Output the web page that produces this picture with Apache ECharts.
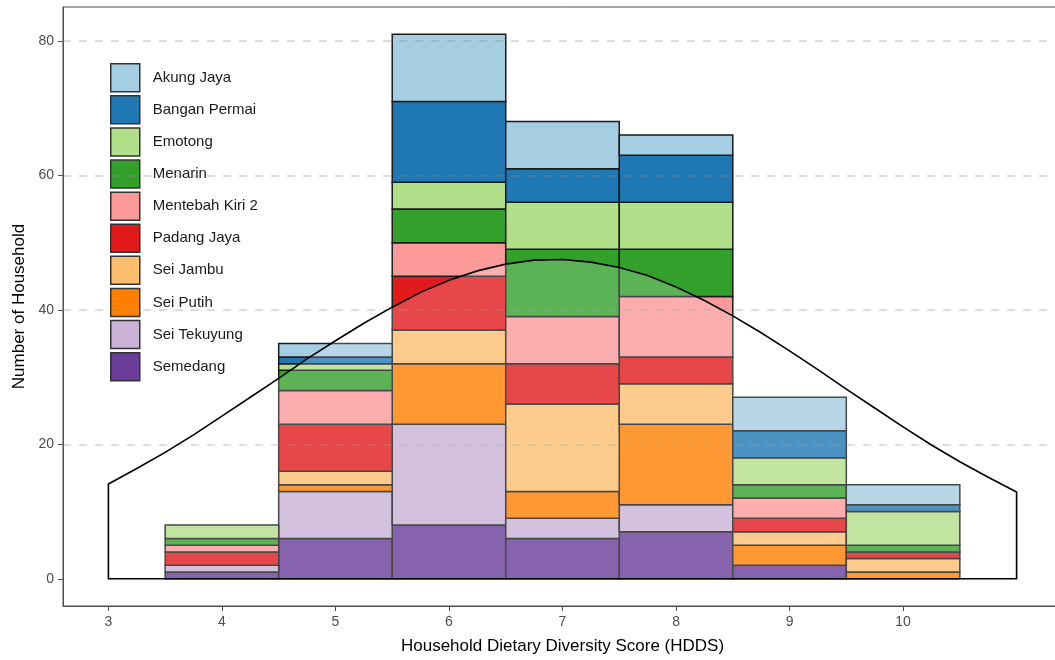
<!DOCTYPE html>
<html>
<head>
<meta charset="utf-8">
<script src="https://cdn.jsdelivr.net/npm/echarts@6/dist/echarts.min.js"></script>
<style>html,body{margin:0;padding:0;background:#fff;overflow:hidden;width:1055px;height:660px;}#c{width:1062px;height:660px;}</style>
</head>
<body>
<div id="c"></div>
<script>
// Histogram bins (HDDS scores)
const scores = [4, 5, 6, 7, 8, 9, 10];
// Counts per village (stack order bottom -> top)
const semedang     = [1, 6, 8, 6, 7, 2, 0];
const seiTekuyung  = [1, 7, 15, 3, 4, 0, 0];
const seiPutih     = [0, 1, 9, 4, 12, 3, 1];
const seiJambu     = [0, 2, 5, 13, 6, 2, 2];
const padangJaya   = [2, 7, 8, 6, 4, 2, 1];
const mentebahKiri = [1, 5, 5, 7, 9, 3, 0];
const menarin      = [1, 3, 5, 10, 7, 2, 1];
const emotong      = [2, 1, 4, 7, 7, 4, 5];
const banganPermai = [0, 1, 12, 5, 7, 4, 1];
const akungJaya    = [0, 2, 10, 7, 3, 5, 3];

// Normal curve overlay
const curveX = [3,3.25,3.5,3.75,4,4.25,4.5,4.75,5,5.25,5.5,5.75,6,6.25,6.5,6.75,7,7.25,7.5,7.75,8,8.25,8.5,8.75,9,9.25,9.5,9.75,10,10.25,10.5,10.75,11];
const curveY = [14.1,16.4,18.8,21.4,24.2,27.0,29.8,32.7,35.4,38.0,40.4,42.6,44.4,45.8,46.8,47.4,47.5,47.1,46.3,45.1,43.4,41.4,39.1,36.6,33.9,31.1,28.2,25.4,22.6,19.9,17.4,15.1,12.9];

const xTicks = [3, 4, 5, 6, 7, 8, 9, 10];
const yTicks = [0, 20, 40, 60, 80];

const stackOrder = [
  ['Semedang', semedang, '#6A3D9A'],
  ['Sei Tekuyung', seiTekuyung, '#CAB2D6'],
  ['Sei Putih', seiPutih, '#FF7F00'],
  ['Sei Jambu', seiJambu, '#FDBF6F'],
  ['Padang Jaya', padangJaya, '#E31A1C'],
  ['Mentebah Kiri 2', mentebahKiri, '#FB9A99'],
  ['Menarin', menarin, '#33A02C'],
  ['Emotong', emotong, '#B2DF8A'],
  ['Bangan Permai', banganPermai, '#1F78B4'],
  ['Akung Jaya', akungJaya, '#A6CEE3']
];

const base = scores.map(() => 0);
const series = stackOrder.map(([name, vals, color]) => {
  const data = [];
  vals.forEach((v, i) => {
    if (v > 0) data.push([scores[i], base[i], base[i] + v]);
    base[i] += v;
  });
  return {
    name: name,
    type: 'custom',
    z: 2,
    itemStyle: { color: color },
    encode: { x: 0, y: [1, 2] },
    data: data,
    renderItem: function (params, api) {
      const x = api.value(0), lo = api.value(1), hi = api.value(2);
      const p1 = api.coord([x - 0.5, hi]);
      const p2 = api.coord([x + 0.5, lo]);
      return {
        type: 'rect',
        shape: { x: p1[0], y: p1[1], width: p2[0] - p1[0], height: p2[1] - p1[1] },
        style: { fill: api.visual('color'), stroke: '#1a1a1a', lineWidth: 1.5 }
      };
    }
  };
});

series.push({
  name: 'curve',
  type: 'custom',
  z: 5,
  silent: true,
  data: [[3, 0]],
  encode: { x: 0, y: 1 },
  renderItem: function (params, api) {
    const pts = [api.coord([curveX[0], 0])];
    for (let i = 0; i < curveX.length; i++) pts.push(api.coord([curveX[i], curveY[i]]));
    pts.push(api.coord([curveX[curveX.length - 1], 0]));
    return {
      type: 'polygon',
      shape: { points: pts },
      style: { fill: 'rgba(255,255,255,0.2)', stroke: '#000', lineWidth: 1.6 }
    };
  },
  markLine: {
    silent: true,
    symbol: 'none',
    label: { show: false },
    lineStyle: { color: 'rgba(140,140,140,0.4)', type: [8, 8], width: 1.6 },
    data: [20, 40, 60, 80].map(v => ({ yAxis: v }))
  }
});

const legendOrder = stackOrder.map(s => s[0]).reverse();

const chart = echarts.init(document.getElementById('c'), null, { renderer: 'canvas' });
chart.setOption({
  animation: false,
  backgroundColor: '#fff',
  grid: { left: 63, top: 7, right: 0, bottom: 53, show: true, borderColor: '#4d4d4d', borderWidth: 1, backgroundColor: 'transparent' },
  legend: {
    data: legendOrder,
    orient: 'vertical',
    left: 110,
    top: 63,
    padding: 0,
    itemWidth: 29,
    itemHeight: 28,
    itemGap: 2.6,
    icon: 'rect',
    itemStyle: { borderColor: '#333', borderWidth: 1.5 },
    textStyle: { fontFamily: 'Liberation Sans, Arial, sans-serif', fontSize: 15, color: '#1a1a1a', padding: [0, 0, 0, 8] },
    selectedMode: false
  },
  xAxis: {
    type: 'value',
    min: 2.6,
    max: 11.4,
    name: 'Household Dietary Diversity Score (HDDS)',
    nameLocation: 'middle',
    nameGap: 32,
    nameTextStyle: { fontFamily: 'Liberation Sans, Arial, sans-serif', fontSize: 17, color: '#000' },
    axisLine: { show: true, onZero: false, lineStyle: { color: '#4d4d4d', width: 1 } },
    axisTick: { show: true, customValues: xTicks, length: 5, lineStyle: { color: '#4d4d4d' } },
    axisLabel: { customValues: xTicks, fontFamily: 'Liberation Sans, Arial, sans-serif', fontSize: 14, color: '#4d4d4d', margin: 9 },
    splitLine: { show: false }
  },
  yAxis: {
    type: 'value',
    min: -4.05,
    max: 85.05,
    name: 'Number of Household',
    nameLocation: 'middle',
    nameGap: 33,
    nameTextStyle: { fontFamily: 'Liberation Sans, Arial, sans-serif', fontSize: 17, color: '#000' },
    axisLine: { show: true, onZero: false, lineStyle: { color: '#4d4d4d', width: 1 } },
    axisTick: { show: true, customValues: yTicks, length: 5, lineStyle: { color: '#4d4d4d' } },
    axisLabel: { customValues: yTicks, fontFamily: 'Liberation Sans, Arial, sans-serif', fontSize: 14, color: '#4d4d4d', margin: 9 },
    splitLine: { show: false }
  },
  series: series
});
</script>
</body>
</html>
